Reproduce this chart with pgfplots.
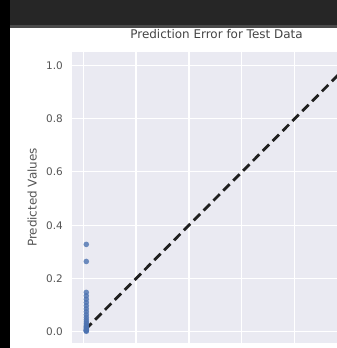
\documentclass[border=0pt]{standalone}
\usepackage{fontspec}
\setmainfont{DejaVu Sans}
\usepackage{pgfplots}
\pgfplotsset{compat=1.18}
\definecolor{bgplot}{HTML}{EAEAF2}
\definecolor{sbblue}{HTML}{4C72B0}
\definecolor{band}{HTML}{262626}
\definecolor{bandline}{HTML}{4A4A4A}
\definecolor{tickgray}{HTML}{555555}
\definecolor{titlegray}{HTML}{444444}
\begin{document}
\begin{tikzpicture}[x=1bp,y=1bp]
\path[use as bounding box] (0,0) rectangle (337,348);
\clip (0,0) rectangle (337,348);
\fill[white] (0,0) rectangle (337,348);
\begin{axis}[
  at={(72bp,5bp)}, anchor=south west,
  scale only axis, width=289bp, height=291bp,
  xmin=-0.042, xmax=1.05, ymin=-0.042, ymax=1.05,
  axis background/.style={fill=bgplot},
  axis line style={draw=none},
  major tick length=0pt,
  grid=major, grid style={white, line width=1.1bp},
  xtick={0,0.2,0.4,0.6,0.8,1.0}, ytick={0,0.2,0.4,0.6,0.8,1.0},
  xticklabels={},
  /pgf/number format/assume math mode=true,
  yticklabel={\pgfmathprintnumber[fixed,fixed zerofill,precision=1]{\tick}},
  yticklabel style={font=\fontsize{10.5}{12}\selectfont, text=tickgray, inner sep=0pt, xshift=-9bp},
  title={Prediction Error for Test Data},
  title style={font=\fontsize{12}{14}\selectfont, text=titlegray, anchor=base, yshift=7.5bp},
  ylabel={Predicted Values},
  ylabel style={font=\fontsize{12}{14}\selectfont, text=tickgray, at={(axis description cs:-0.138,0.5)}, anchor=center},
]
\addplot[only marks, mark=*, mark size=2.8bp, color=sbblue, mark options={fill=sbblue, draw=sbblue, draw opacity=0, fill opacity=0.8}]
coordinates {
(0.012,0.328) (0.012,0.264) (0.012,0.148) (0.012,0.135) (0.012,0.122) (0.012,0.110)
(0.012,0.098) (0.012,0.086) (0.012,0.075) (0.012,0.064) (0.012,0.054) (0.012,0.045)
(0.012,0.037) (0.012,0.030) (0.012,0.024) (0.012,0.019) (0.012,0.015) (0.012,0.011)
(0.012,0.008) (0.012,0.006) (0.012,0.004) (0.012,0.002)
};
\addplot[color=black!88, line width=2.8bp, dash pattern=on 9bp off 5bp] coordinates {(0.008,0.008) (1.0,1.0)};
\end{axis}
\fill[bandline] (0,320) rectangle (337,323);
\fill[band] (0,323) rectangle (337,348);
\fill[black] (0,0) rectangle (10,348);
\end{tikzpicture}
\end{document}
